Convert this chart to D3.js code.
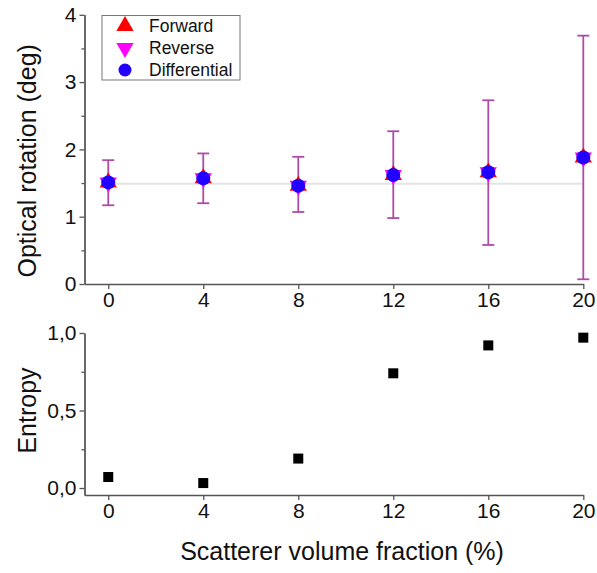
<!DOCTYPE html>
<html lang="en">
<head>
<meta charset="UTF-8">
<script src="https://cdn.jsdelivr.net/npm/d3@7"></script>
<style>
  body { margin: 0; background: #fff; }
  svg text { font-family: "Liberation Sans", Arial, sans-serif; fill: #111; }
</style>
</head>
<body>
<script>
  // volume fraction (%)
  const fractions = [0, 4, 8, 12, 16, 20];
  // optical rotation (deg), differential and its error bar ends
  const rotation = [1.51, 1.57, 1.46, 1.62, 1.66, 1.88];
  const errLow = [1.17, 1.20, 1.07, 0.98, 0.58, 0.07];
  const errHigh = [1.84, 1.94, 1.89, 2.27, 2.73, 3.69];
  const meanRotation = 1.49;
  // entropy
  const entropy = [0.071, 0.032, 0.19, 0.74, 0.92, 0.97];
  const legendLabels = ["Forward", "Reverse", "Differential"];

  const W = 597, H = 573;
  const svg = d3.select("body").append("svg").attr("width", W).attr("height", H);

  const x = d3.scaleLinear().domain([-1, 20]).range([84.5, 583.3]);
  const yTop = d3.scaleLinear().domain([0, 4]).range([284, 14.8]);
  const yBot = d3.scaleLinear().domain([-0.045, 1.0]).range([495, 333]);
  const axisColor = "#555";

  function styleAxis(g) {
    g.select(".domain").attr("stroke", axisColor).attr("stroke-width", 1.3);
    g.selectAll(".tick line").attr("stroke", axisColor).attr("stroke-width", 1.3);
    g.selectAll(".tick text").attr("font-size", 21).attr("fill", "#111");
  }

  // ---- top panel ----
  svg.append("g").attr("transform", `translate(0,${yTop(0)})`)
    .call(d3.axisBottom(x).tickValues(fractions).tickSize(5).tickPadding(3).tickSizeOuter(0))
    .call(styleAxis);

  svg.append("g").attr("transform", `translate(${x(-1)},0)`)
    .call(d3.axisLeft(yTop).tickValues([0.5, 1.5, 2.5, 3.5]).tickSize(3).tickFormat("").tickSizeOuter(0))
    .call(styleAxis);
  svg.append("g").attr("transform", `translate(${x(-1)},0)`)
    .call(d3.axisLeft(yTop).tickValues([0, 1, 2, 3, 4]).tickSize(5).tickPadding(3)
      .tickFormat(d3.format("d")).tickSizeOuter(0))
    .call(styleAxis);

  // mean line
  svg.append("line")
    .attr("x1", x(0)).attr("x2", x(20))
    .attr("y1", yTop(meanRotation)).attr("y2", yTop(meanRotation))
    .attr("stroke", "#e4e4e4").attr("stroke-width", 2);

  const pts = fractions.map((f, i) => ({ f, v: rotation[i], lo: errLow[i], hi: errHigh[i] }));
  const errColor = "#b04aa8";
  const eb = svg.append("g").selectAll("g").data(pts).join("g");
  eb.append("line")
    .attr("x1", d => x(d.f)).attr("x2", d => x(d.f))
    .attr("y1", d => yTop(d.lo)).attr("y2", d => yTop(d.hi))
    .attr("stroke", errColor).attr("stroke-width", 1.8);
  [d => d.lo, d => d.hi].forEach(acc => {
    eb.append("line")
      .attr("x1", d => x(d.f) - 6).attr("x2", d => x(d.f) + 6)
      .attr("y1", d => yTop(acc(d))).attr("y2", d => yTop(acc(d)))
      .attr("stroke", errColor).attr("stroke-width", 1.8);
  });

  const tri = d3.symbol().type(d3.symbolTriangle).size(130);
  svg.append("g").selectAll("path.fw").data(pts).join("path")
    .attr("transform", d => `translate(${x(d.f)},${yTop(d.v)})`)
    .attr("d", tri).attr("fill", "#ff0000");
  svg.append("g").selectAll("path.rv").data(pts).join("path")
    .attr("transform", d => `translate(${x(d.f)},${yTop(d.v)}) rotate(180)`)
    .attr("d", tri).attr("fill", "#ff00ff");
  svg.append("g").selectAll("circle").data(pts).join("circle")
    .attr("cx", d => x(d.f)).attr("cy", d => yTop(d.v)).attr("r", 7)
    .attr("fill", "#2200ff");

  // legend
  const lg = svg.append("g");
  lg.append("rect").attr("x", 102).attr("y", 15.5).attr("width", 138).attr("height", 64.5)
    .attr("fill", "#fff").attr("stroke", "#777").attr("stroke-width", 1);
  legendLabels.forEach((lab, i) => {
    const cy = 26 + i * 22;
    const sym = lg.append("path").attr("transform", `translate(125,${cy})${i === 1 ? " rotate(180)" : ""}`);
    if (i < 2) sym.attr("d", tri).attr("fill", i === 0 ? "#ff0000" : "#ff00ff");
    else lg.append("circle").attr("cx", 125).attr("cy", cy).attr("r", 6.5).attr("fill", "#2200ff");
    lg.append("text").attr("x", 149).attr("y", cy).attr("dy", "0.36em")
      .attr("font-size", 17.5).text(lab);
  });

  svg.append("text")
    .attr("transform", `translate(36,${yTop(1.83)}) rotate(-90)`)
    .attr("text-anchor", "middle").attr("font-size", 25)
    .text("Optical rotation (deg)");

  // ---- bottom panel ----
  svg.append("g").attr("transform", `translate(0,${yBot(-0.045)})`)
    .call(d3.axisBottom(x).tickValues(fractions).tickSize(5).tickPadding(3).tickSizeOuter(0))
    .call(styleAxis);
  svg.append("g").attr("transform", `translate(${x(-1)},0)`)
    .call(d3.axisLeft(yBot).tickValues([0.25, 0.75]).tickSize(3).tickFormat("").tickSizeOuter(0))
    .call(styleAxis);
  svg.append("g").attr("transform", `translate(${x(-1)},0)`)
    .call(d3.axisLeft(yBot).tickValues([0, 0.5, 1]).tickSize(5).tickPadding(3).tickSizeOuter(0)
      .tickFormat(d => d3.format(".1f")(d).replace(".", ",")))
    .call(styleAxis);

  svg.append("g").selectAll("rect").data(fractions.map((f, i) => ({ f, v: entropy[i] }))).join("rect")
    .attr("x", d => x(d.f) - 5).attr("y", d => yBot(d.v) - 5)
    .attr("width", 10).attr("height", 10).attr("fill", "#000");

  svg.append("text")
    .attr("transform", `translate(36,${yBot(0.5)}) rotate(-90)`)
    .attr("text-anchor", "middle").attr("font-size", 25)
    .text("Entropy");

  svg.append("text")
    .attr("x", 342).attr("y", 560)
    .attr("text-anchor", "middle").attr("font-size", 25)
    .text("Scatterer volume fraction (%)");
</script>
</body>
</html>
